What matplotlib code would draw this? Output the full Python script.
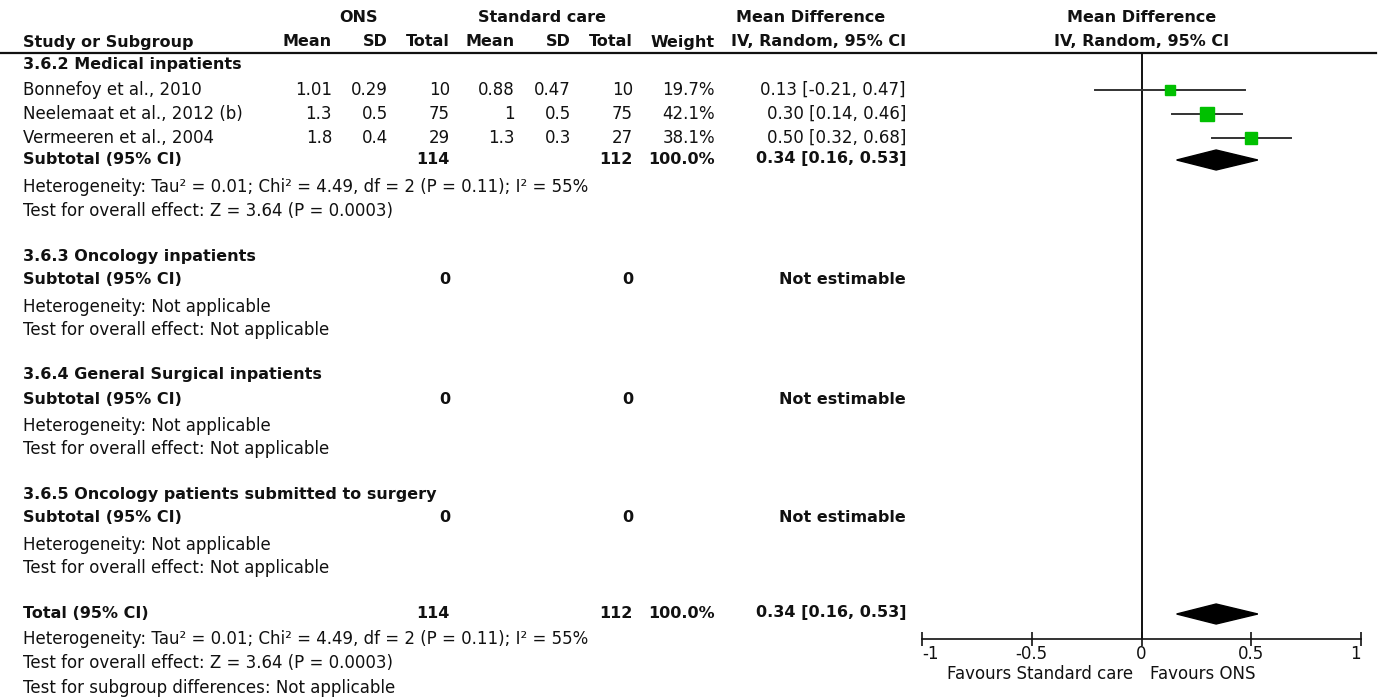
import matplotlib.pyplot as plt

# study-level data, subgroup 3.6.2
studies = ["Bonnefoy et al., 2010", "Neelemaat et al., 2012 (b)", "Vermeeren et al., 2004"]
ons_mean = [1.01, 1.3, 1.8]
ons_sd = [0.29, 0.5, 0.4]
ons_n = [10, 75, 29]
sc_mean = [0.88, 1, 1.3]
sc_sd = [0.47, 0.5, 0.3]
sc_n = [10, 75, 27]
weights = [19.7, 42.1, 38.1]
md = [0.13, 0.30, 0.50]
ci_lo = [-0.21, 0.14, 0.32]
ci_hi = [0.47, 0.46, 0.68]

# pooled estimate (subtotal and overall are the same here)
pooled_md, pooled_lo, pooled_hi = 0.34, 0.16, 0.53
pooled_ons_n, pooled_sc_n = 114, 112

subgroups = ["3.6.2 Medical inpatients", "3.6.3 Oncology inpatients",
             "3.6.4 General Surgical inpatients", "3.6.5 Oncology patients submitted to surgery"]
het_text = "Heterogeneity: Tau\u00b2 = 0.01; Chi\u00b2 = 4.49, df = 2 (P = 0.11); I\u00b2 = 55%"
z_text = "Test for overall effect: Z = 3.64 (P = 0.0003)"
na_het = "Heterogeneity: Not applicable"
na_z = "Test for overall effect: Not applicable"
sub_diff = "Test for subgroup differences: Not applicable"

xticks = [-1, -0.5, 0, 0.5, 1]
xticklabels = ["-1", "-0.5", "0", "0.5", "1"]

FS = 12        # regular text
FS_B = 11.5    # bold text
INK = "#111111"
GREEN = "#00c000"

# column right edges (pixels)
X_LEFT = 23
C_ONS_MEAN, C_ONS_SD, C_ONS_N = 332, 388, 450
C_SC_MEAN, C_SC_SD, C_SC_N = 515, 571, 633
C_W, C_MD = 715, 906

fig = plt.figure(figsize=(13.78, 7), dpi=100)
ax = fig.add_axes([0, 0, 1, 1])
ax.set_xlim(0, 1378)
ax.set_ylim(700, 0)
ax.axis("off")


def txt(x, y, s, ha="left", bold=False):
    ax.text(x, y, s, ha=ha, va="center", fontsize=FS_B if bold else FS, color=INK,
            fontweight="bold" if bold else "normal")


# headers
txt(359, 18, "ONS", ha="center", bold=True)
txt(542, 18, "Standard care", ha="center", bold=True)
txt(811, 18, "Mean Difference", ha="center", bold=True)
txt(1142, 18, "Mean Difference", ha="center", bold=True)
txt(X_LEFT, 42, "Study or Subgroup", bold=True)
for x, s in [(C_ONS_MEAN, "Mean"), (C_ONS_SD, "SD"), (C_ONS_N, "Total"),
             (C_SC_MEAN, "Mean"), (C_SC_SD, "SD"), (C_SC_N, "Total"),
             (C_W, "Weight"), (C_MD, "IV, Random, 95% CI")]:
    txt(x, 42, s, ha="right", bold=True)
txt(1142, 42, "IV, Random, 95% CI", ha="center", bold=True)
ax.plot([0, 1376], [53, 53], color=INK, lw=1.6)

# subgroup 3.6.2
txt(X_LEFT, 65, subgroups[0], bold=True)
row_y = [90, 114, 138]
for i, y in enumerate(row_y):
    txt(X_LEFT, y, studies[i])
    txt(C_ONS_MEAN, y, f"{ons_mean[i]:g}", ha="right")
    txt(C_ONS_SD, y, f"{ons_sd[i]:g}", ha="right")
    txt(C_ONS_N, y, f"{ons_n[i]}", ha="right")
    txt(C_SC_MEAN, y, f"{sc_mean[i]:g}", ha="right")
    txt(C_SC_SD, y, f"{sc_sd[i]:g}", ha="right")
    txt(C_SC_N, y, f"{sc_n[i]}", ha="right")
    txt(C_W, y, f"{weights[i]:.1f}%", ha="right")
    txt(C_MD, y, f"{md[i]:.2f} [{ci_lo[i]:.2f}, {ci_hi[i]:.2f}]", ha="right")

pooled_label = f"{pooled_md:.2f} [{pooled_lo:.2f}, {pooled_hi:.2f}]"


def pooled_row(y, label):
    txt(X_LEFT, y, label, bold=True)
    txt(C_ONS_N, y, f"{pooled_ons_n}", ha="right", bold=True)
    txt(C_SC_N, y, f"{pooled_sc_n}", ha="right", bold=True)
    txt(C_W, y, "100.0%", ha="right", bold=True)
    txt(C_MD, y, pooled_label, ha="right", bold=True)


pooled_row(159, "Subtotal (95% CI)")
txt(X_LEFT, 187, het_text)
txt(X_LEFT, 211, z_text)

# empty subgroups
for name, y0 in zip(subgroups[1:], [256, 375, 494]):
    txt(X_LEFT, y0, name, bold=True)
    txt(X_LEFT, y0 + 24, "Subtotal (95% CI)", bold=True)
    txt(C_ONS_N, y0 + 24, "0", ha="right", bold=True)
    txt(C_SC_N, y0 + 24, "0", ha="right", bold=True)
    txt(C_MD, y0 + 24, "Not estimable", ha="right", bold=True)
    txt(X_LEFT, y0 + 51, na_het)
    txt(X_LEFT, y0 + 74, na_z)

# overall
pooled_row(613, "Total (95% CI)")
txt(X_LEFT, 639, het_text)
txt(X_LEFT, 663, z_text)
txt(X_LEFT, 688, sub_diff)

# forest panel
fx = fig.add_axes([922 / 1378, 0, 439 / 1378, 1])
fx.set_xlim(-1, 1)
fx.set_ylim(700, 0)
fx.patch.set_alpha(0)
for side in ["top", "left", "right"]:
    fx.spines[side].set_visible(False)
fx.spines["bottom"].set_position(("data", 639))
fx.spines["bottom"].set_linewidth(1.2)
fx.spines["bottom"].set_color(INK)
fx.set_yticks([])
fx.set_xticks(xticks)
fx.set_xticklabels(xticklabels, fontsize=FS, color=INK)
fx.tick_params(axis="x", direction="inout", length=10, width=1.2, pad=-1, color=INK)
labels = fx.get_xticklabels()
labels[0].set_ha("left")
labels[-1].set_ha("right")

fx.vlines(0, 53, 639, color=INK, lw=1.4)

for i, y in enumerate(row_y):
    fx.plot([ci_lo[i], ci_hi[i]], [y, y], color="#333333", lw=1.4, zorder=2)
    fx.plot(md[i], y, marker="s", ms=1.5 * weights[i] ** 0.5, color=GREEN,
            mec=GREEN, zorder=3)

for y in [160, 614]:
    fx.fill([pooled_lo, pooled_md, pooled_hi, pooled_md],
            [y, y - 10, y, y + 10], color="black", zorder=3)

fx.text(-0.04, 674, "Favours Standard care", ha="right", va="center", fontsize=FS, color=INK)
fx.text(0.04, 674, "Favours ONS", ha="left", va="center", fontsize=FS, color=INK)

fig.savefig("out.png", dpi=100)
